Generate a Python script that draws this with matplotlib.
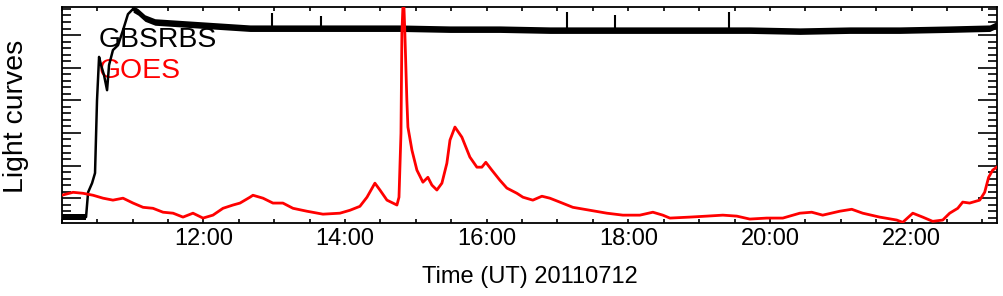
import numpy as np
import matplotlib
matplotlib.use("Agg")
import matplotlib.pyplot as plt
from matplotlib.ticker import MultipleLocator, FuncFormatter

plt.rcParams['font.family'] = ['Liberation Sans', 'DejaVu Sans']

# ---- data (UT hours, normalized flux units) ----
goes_t = [10.000, 10.160, 10.300, 10.442, 10.583, 10.723, 10.865, 11.007, 11.148, 11.288,
          11.430, 11.572, 11.712, 11.853, 11.995, 12.135, 12.277, 12.418, 12.517, 12.658,
          12.700, 12.842, 12.982, 13.123, 13.265, 13.462, 13.688, 13.928, 14.070, 14.210,
          14.310, 14.422, 14.493, 14.592, 14.733, 14.762, 14.790, 14.803, 14.825, 14.845,
          14.873, 14.888, 14.945, 15.015, 15.100, 15.170, 15.227, 15.297, 15.368, 15.438,
          15.482, 15.552, 15.650, 15.763, 15.862, 15.932, 15.988, 16.073, 16.187, 16.285,
          16.427, 16.512, 16.652, 16.780, 16.892, 17.033, 17.217, 17.457, 17.697, 17.923,
          18.163, 18.347, 18.487, 18.587, 18.868, 19.108, 19.335, 19.532, 19.715, 19.955,
          20.182, 20.422, 20.590, 20.745, 20.985, 21.155, 21.310, 21.550, 21.790, 21.875,
          22.017, 22.157, 22.298, 22.440, 22.538, 22.652, 22.722, 22.820, 22.962, 23.032,
          23.088, 23.145, 23.202]
goes_v = [0.09, 0.18, 0.15, 0.09, 0.00, -0.06, 0.00, -0.15, -0.28, -0.31,
          -0.43, -0.46, -0.58, -0.46, -0.61, -0.52, -0.31, -0.21, -0.15, 0.03,
          0.09, 0.00, -0.15, -0.15, -0.31, -0.40, -0.49, -0.46, -0.37, -0.25,
          0.03, 0.46, 0.25, -0.06, -0.21, 0.03, 1.99, 5.06, 6.30, 5.06,
          3.01, 2.18, 1.47, 0.86, 0.49, 0.64, 0.40, 0.25, 0.46, 1.07,
          1.78, 2.18, 1.87, 1.26, 0.95, 0.95, 1.10, 0.86, 0.55, 0.31,
          0.15, 0.03, -0.06, 0.06, 0.00, -0.12, -0.28, -0.37, -0.46, -0.52,
          -0.52, -0.43, -0.52, -0.61, -0.58, -0.55, -0.52, -0.55, -0.64, -0.61,
          -0.61, -0.46, -0.43, -0.52, -0.40, -0.34, -0.46, -0.58, -0.67, -0.74,
          -0.46, -0.58, -0.71, -0.67, -0.46, -0.31, -0.12, -0.15, -0.06, 0.18,
          0.64, 0.86, 0.95]

rbs_t = [10.005, 10.343, 10.372, 10.428, 10.470, 10.498, 10.527, 10.555, 10.597, 10.640,
         10.668, 10.723, 10.795, 10.865, 10.935, 11.007, 11.077, 11.175, 11.317, 11.528,
         11.952, 12.375, 12.658, 13.363, 14.070, 14.775, 15.482, 16.187, 16.892, 18.305,
         19.010, 19.715, 20.422, 21.127, 21.833, 22.538, 23.103, 23.202]
rbs_v = [-0.58, -0.58, 0.18, 0.46, 0.77, 3.00, 4.33, 4.08, 3.77, 3.31,
         4.08, 4.54, 4.69, 5.15, 5.64, 5.80, 5.71, 5.52, 5.40, 5.37,
         5.31, 5.25, 5.21, 5.21, 5.21, 5.21, 5.18, 5.18, 5.15, 5.15,
         5.15, 5.15, 5.12, 5.15, 5.15, 5.18, 5.21, 5.31]
spike_t = [12.968, 13.660, 17.132, 17.810, 19.418]
spike_top = [5.67, 5.58, 5.71, 5.61, 5.71]
spike_base = [5.21, 5.21, 5.15, 5.15, 5.15]

major_hours = [12, 14, 16, 18, 20, 22]

# ---- figure ----
fig = plt.figure(figsize=(10.04, 2.96), dpi=100)
ax = fig.add_axes([0.0615, 0.2456, 0.9318, 0.7297])

rt = np.array(rbs_t)
rv = np.array(rbs_v)
ax.plot(rt, rv, color='black', lw=1.8, zorder=2)
# noisy band for flat segments
seg1 = rt < 10.35
seg2 = rt > 10.98
for seg in (seg1, seg2):
    ax.fill_between(rt[seg], rv[seg] - 0.10, rv[seg] + 0.10, color='black', lw=0, zorder=2)
ax.vlines(spike_t, spike_base, spike_top, color='black', lw=1.5, zorder=2)

ax.plot(goes_t, goes_v, color='#ff0000', lw=2.0, zorder=3)

ax.set_xlim(10.0, 23.21)
ax.set_ylim(-0.77, 5.85)

ax.xaxis.set_major_locator(plt.FixedLocator(major_hours))
ax.xaxis.set_minor_locator(MultipleLocator(0.5))
ax.xaxis.set_major_formatter(FuncFormatter(lambda v, p: "%02d:00" % int(round(v))))
ax.yaxis.set_major_locator(MultipleLocator(1.0))
ax.yaxis.set_minor_locator(MultipleLocator(0.2))
ax.yaxis.set_major_formatter(FuncFormatter(lambda v, p: ""))

ax.tick_params(axis='x', which='both', direction='in', top=True, bottom=True,
               length=3, width=1.2, labelsize=17, pad=3.5)
ax.tick_params(axis='y', which='major', direction='in', left=True, right=True,
               length=13.7, width=1.2)
ax.tick_params(axis='y', which='minor', direction='in', left=True, right=True,
               length=6.8, width=1.2)
for s in ax.spines.values():
    s.set_linewidth(1.3)

ax.set_xlabel("Time (UT) 20110712", fontsize=17)
ax.xaxis.set_label_coords(0.5, -0.276)
ax.xaxis.label.set_va('baseline')

ax.set_ylabel("Light curves", fontsize=20.4)
ax.yaxis.set_label_coords(-0.0414, 0.497)
ax.yaxis.label.set_va('baseline')

ax.text(0.0393, 0.816, "GBSRBS", transform=ax.transAxes, fontsize=20.4,
        color='black', va='baseline', ha='left', zorder=1)
ax.text(0.0393, 0.673, "GOES", transform=ax.transAxes, fontsize=20.4,
        color='#ff0000', va='baseline', ha='left', zorder=1)

fig.savefig("out.png", dpi=100)
